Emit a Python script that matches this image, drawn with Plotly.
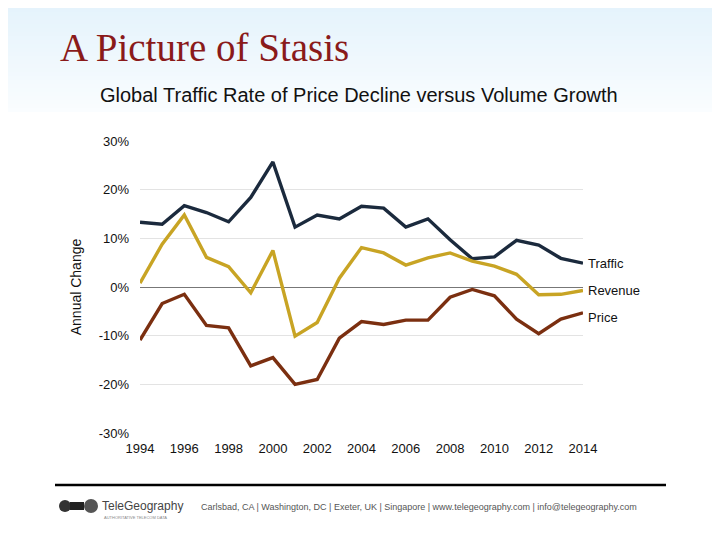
import plotly.graph_objects as go

years = list(range(1994, 2015))
traffic = [13.3, 12.9, 16.7, 15.3, 13.4, 18.4, 25.7, 12.3, 14.8, 14.0, 16.6,
           16.2, 12.3, 14.0, 9.7, 5.8, 6.2, 9.6, 8.6, 5.9, 4.9]
revenue = [0.8, 8.8, 14.8, 6.1, 4.2, -1.2, 7.5, -10.1, -7.3, 1.8, 8.1,
           7.0, 4.5, 6.0, 7.0, 5.3, 4.3, 2.6, -1.6, -1.5, -0.7]
price = [-10.9, -3.4, -1.5, -7.9, -8.4, -16.2, -14.5, -20.0, -19.0, -10.5, -7.1,
         -7.7, -6.8, -6.8, -2.1, -0.5, -1.8, -6.6, -9.6, -6.6, -5.3]
y_ticks = [-30, -20, -10, 0, 10, 20, 30]
y_tick_text = ["-30%", "-20%", "-10%", "0%", "10%", "20%", "30%"]
x_ticks = list(range(1994, 2015, 2))

series = [("Traffic", traffic, "#1b2a3d", 0),
          ("Revenue", revenue, "#c8a424", 0),
          ("Price", price, "#7b2f10", -5)]

# page has an 8px body margin; work in reference pixel coords and shift
OFF = 8
W, H = 720 - OFF, 540 - OFF
PL, PR, PT, PB = 140, 583, 141, 433  # plot area in reference pixels

fig = go.Figure()
for name, vals, col, ysh in series:
    fig.add_trace(go.Scatter(x=years, y=vals, mode="lines", name=name,
                             line=dict(color=col, width=3.4), cliponaxis=False,
                             showlegend=False))


def px_x(p):
    return (p - PL) / (PR - PL)


def px_y(p):
    return (PB - p) / (PB - PT)


shapes = []
# top light-blue gradient background
n = 28
top = (228, 243, 252)
bot = (250, 253, 255)
for i in range(n):
    t = i / (n - 1)
    c = tuple(int(top[k] + (bot[k] - top[k]) * t) for k in range(3))
    ya = i * 112 / n
    yb = (i + 1) * 112 / n
    if i == 0:
        ya = -20
    shapes.append(dict(type="rect", xref="paper", yref="paper", layer="below",
                       x0=px_x(-20), x1=px_x(760), y0=px_y(yb), y1=px_y(ya),
                       line=dict(width=0), fillcolor="rgb(%d,%d,%d)" % c))

# footer rule
shapes.append(dict(type="line", xref="paper", yref="paper",
                   x0=px_x(55), x1=px_x(666), y0=px_y(485), y1=px_y(485),
                   line=dict(color="black", width=2.5)))
# logo icon
shapes.append(dict(type="circle", xref="paper", yref="paper",
                   x0=px_x(59), x1=px_x(71), y0=px_y(512), y1=px_y(500),
                   fillcolor="#333333", line=dict(width=0)))
shapes.append(dict(type="rect", xref="paper", yref="paper",
                   x0=px_x(70), x1=px_x(84), y0=px_y(510), y1=px_y(502),
                   fillcolor="#222222", line=dict(width=0)))
shapes.append(dict(type="circle", xref="paper", yref="paper",
                   x0=px_x(84), x1=px_x(98), y0=px_y(513), y1=px_y(499),
                   fillcolor="#555555", line=dict(width=0)))

annotations = []
for name, vals, col, ysh in series:
    annotations.append(dict(x=years[-1], y=vals[-1], xref="x", yref="y",
                            text=name, showarrow=False, xanchor="left",
                            yanchor="middle", xshift=3, yshift=ysh,
                            font=dict(family="Liberation Sans", size=13, color="#111111")))
annotations += [
    dict(x=px_x(58), y=px_y(48), xref="paper", yref="paper", text="A Picture of Stasis",
         showarrow=False, xanchor="left", yanchor="middle",
         font=dict(family="Liberation Serif", size=39, color="#8a1a1a")),
    dict(x=px_x(98), y=px_y(95), xref="paper", yref="paper",
         text="Global Traffic Rate of Price Decline versus Volume Growth",
         showarrow=False, xanchor="left", yanchor="middle",
         font=dict(family="Liberation Sans", size=20, color="#111111")),
    dict(x=px_x(100), y=px_y(506), xref="paper", yref="paper", text="TeleGeography",
         showarrow=False, xanchor="left", yanchor="middle",
         font=dict(family="Liberation Sans", size=12, color="#444444")),
    dict(x=px_x(102), y=px_y(517), xref="paper", yref="paper",
         text="AUTHORITATIVE TELECOM DATA",
         showarrow=False, xanchor="left", yanchor="middle",
         font=dict(family="Liberation Sans", size=4, color="#888888")),
    dict(x=px_x(199), y=px_y(507), xref="paper", yref="paper",
         text="Carlsbad, CA | Washington, DC | Exeter, UK | Singapore | www.telegeography.com | info@telegeography.com",
         showarrow=False, xanchor="left", yanchor="middle",
         font=dict(family="Liberation Sans", size=9, color="#555555")),
]

fig.update_layout(
    width=W, height=H, autosize=False,
    margin=dict(l=PL - OFF, r=720 - PR, t=PT - OFF, b=540 - PB, pad=0),
    paper_bgcolor="white", plot_bgcolor="rgba(0,0,0,0)",
    shapes=shapes, annotations=annotations,
    xaxis=dict(range=[1994, 2014], tickvals=x_ticks, showgrid=False, zeroline=False,
               showline=False, ticks="", ticklen=0, ticklabelstandoff=6,
               tickfont=dict(family="Liberation Sans", size=13, color="#111111")),
    yaxis=dict(range=[-30, 30], tickvals=y_ticks, ticktext=y_tick_text, showgrid=True,
               gridcolor="#e3e3e3", gridwidth=1.2, zeroline=True, zerolinecolor="#777777",
               zerolinewidth=1.2, showline=False, ticks="", ticklabelstandoff=10,
               tickfont=dict(family="Liberation Sans", size=13, color="#111111"),
               title=dict(text="Annual Change", standoff=13,
                          font=dict(family="Liberation Sans", size=14, color="#111111"))),
)

fig.write_html("out.html")
